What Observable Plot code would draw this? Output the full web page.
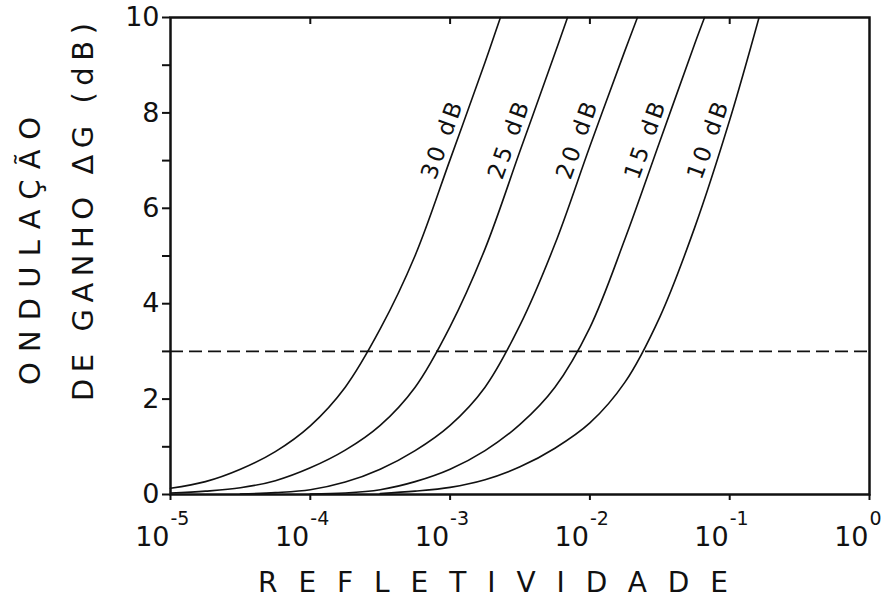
<!DOCTYPE html>
<html>
<head>
<meta charset="utf-8">
<script src="https://cdn.jsdelivr.net/npm/d3@7"></script>
<script src="https://cdn.jsdelivr.net/npm/@observablehq/plot@0.6"></script>
<style>
  html, body { margin: 0; padding: 0; background: #fff; }
  #chart { width: 881px; height: 603px; }
</style>
</head>
<body>
<div id="chart"></div>
<script>
// Gain ripple ΔG (dB) of an amplifier versus facet reflectivity,
// one curve per single-pass gain.
const gains = ["30 dB", "25 dB", "20 dB", "15 dB", "10 dB"];

// log10(reflectivity) and ripple ΔG (dB) sampled along each curve
const logR30 = [-5, -4.75, -4.5, -4.25, -4, -3.75, -3.5, -3.25, -3, -2.75, -2.64];
const dG30   = [0.13, 0.27, 0.53, 0.9, 1.44, 2.25, 3.47, 5.01, 7.02, 9.06, 10];

const logR25 = [-5, -4.75, -4.5, -4.25, -4, -3.75, -3.5, -3.25, -3, -2.75, -2.5, -2.25, -2.16];
const dG25   = [0.03, 0.07, 0.14, 0.29, 0.56, 0.93, 1.45, 2.25, 3.52, 5.15, 7.2, 9.25, 10];

const logR20 = [-4.5, -4.25, -4, -3.75, -3.5, -3.25, -3, -2.75, -2.5, -2.25, -2, -1.75, -1.66];
const dG20   = [0.01, 0.04, 0.1, 0.26, 0.53, 0.92, 1.45, 2.25, 3.55, 5.25, 7.3, 9.3, 10];

const logR15 = [-4, -3.75, -3.5, -3.25, -3, -2.75, -2.5, -2.25, -2, -1.75, -1.5, -1.25, -1.18];
const dG15   = [0.01, 0.03, 0.1, 0.27, 0.53, 0.92, 1.47, 2.25, 3.5, 5.35, 7.4, 9.45, 10];

const logR10 = [-3.5, -3.25, -3, -2.75, -2.5, -2.25, -2, -1.75, -1.5, -1.25, -1, -0.79];
const dG10   = [0.02, 0.07, 0.15, 0.31, 0.58, 0.97, 1.5, 2.35, 3.72, 5.6, 7.85, 10];

// 3 dB ripple criterion
const rippleLimit = [3];

// axes
const xTicks = [1e-5, 1e-4, 1e-3, 1e-2, 1e-1, 1];
const xTickExponents = ["-5", "-4", "-3", "-2", "-1", "0"];
const yTicks = [0, 1, 2, 3, 4, 5, 6, 7, 8, 9, 10];
const xTitle = "REFLETIVIDADE";
const yTitle1 = "ONDULAÇÃO";
const yTitle2 = "DE GANHO ΔG (dB)";

// curve labels sit on each curve at this ripple level
const labelLevel = 7.42;

const logRs = [logR30, logR25, logR20, logR15, logR10];
const dGs = [dG30, dG25, dG20, dG15, dG10];

const rows = gains.flatMap((g, k) =>
  logRs[k].map((l, i) => ({gain: g, r: Math.pow(10, l), dg: dGs[k][i]}))
);

// position of each label: where the curve crosses labelLevel
const labels = gains.map((g, k) => {
  const L = logRs[k], G = dGs[k];
  const i = G.findIndex(v => v >= labelLevel);
  const t = (labelLevel - G[i - 1]) / (G[i] - G[i - 1]);
  const l = L[i - 1] + t * (L[i] - L[i - 1]);
  return {gain: g, r: Math.pow(10, l), dg: labelLevel};
});

const font = "DejaVu Sans";

const plot = Plot.plot({
  width: 881,
  height: 603,
  marginLeft: 170,
  marginRight: 12,
  marginTop: 17,
  marginBottom: 109,
  style: {fontFamily: font, color: "#111", background: "#fff"},
  x: {type: "log", domain: [1e-5, 1]},
  y: {domain: [0, 10]},
  marks: [
    Plot.ruleY(rippleLimit, {stroke: "#111", strokeWidth: 1.6, strokeDasharray: "13,6"}),
    Plot.line(rows, {x: "r", y: "dg", z: "gain", curve: "catmull-rom", stroke: "#111", strokeWidth: 1.6}),
    Plot.text(labels, {
      x: "r", y: "dg", text: "gain", rotate: -70, dx: -15,
      fontSize: 23, textAnchor: "middle", lineAnchor: "middle", fill: "#111"
    }),
    Plot.axisY(yTicks, {
      tickSize: 8, tickPadding: 3, strokeWidth: 2, fontSize: 27,
      tickFormat: d => (d % 2 === 0 ? String(d) : ""), label: null
    }),
    Plot.axisX(xTicks, {tickSize: 6, strokeWidth: 2, tickFormat: () => "", label: null}),
    Plot.axisX(xTicks.slice(1, -1), {anchor: "top", tickSize: 6, dy: 6, strokeWidth: 2, tickFormat: () => "", label: null}),
    // decade labels: "10" with a raised exponent
    Plot.text(xTicks, {x: d => d, text: () => "10", frameAnchor: "bottom", dy: 43, dx: -1,
      textAnchor: "end", lineAnchor: "middle", fontSize: 27, fill: "#111"}),
    Plot.text(xTicks, {x: d => d, text: (d, i) => xTickExponents[i], frameAnchor: "bottom", dy: 24, dx: 0,
      textAnchor: "start", lineAnchor: "middle", fontSize: 19, fill: "#111"}),
    Plot.frame({stroke: "#111", strokeWidth: 2.5}),
    // axis titles
    Plot.text([xTitle], {text: d => d, frameAnchor: "bottom", dy: 89, dx: -27,
      textAnchor: "middle", lineAnchor: "middle", fontSize: 28, fill: "#111"}),
    Plot.text([yTitle1], {text: d => d, frameAnchor: "left", rotate: -90, dx: -140, dy: -5,
      textAnchor: "middle", lineAnchor: "middle", fontSize: 29, fill: "#111"}),
    Plot.text([yTitle2], {text: d => d, frameAnchor: "left", rotate: -90, dx: -87, dy: -44,
      textAnchor: "middle", lineAnchor: "middle", fontSize: 29, fill: "#111"})
  ]
});

// spread the lettering of the titles and curve labels
const spread = {
  [xTitle]: 470,
  [yTitle1]: 268,
  [yTitle2]: 378
};
gains.forEach(g => (spread[g] = 80));
d3.select(plot).selectAll("text").each(function () {
  const len = spread[this.textContent];
  if (len) d3.select(this).attr("textLength", len).attr("lengthAdjust", "spacing");
});

document.getElementById("chart").appendChild(plot);
</script>
</body>
</html>
